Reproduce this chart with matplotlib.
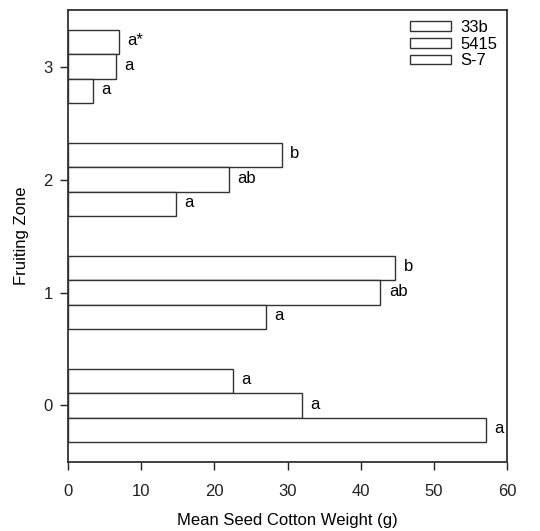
import numpy as np
import matplotlib
matplotlib.use("Agg")
import matplotlib.pyplot as plt

plt.rcParams['font.family'] = ['Liberation Sans', 'DejaVu Sans']

zones = [0, 1, 2, 3]
series = ["33b", "5415", "S-7"]
w_33b = [22.5, 44.7, 29.2, 7.0]
w_5415 = [32.0, 42.7, 22.0, 6.5]
w_s7 = [57.1, 27.1, 14.8, 3.4]
lab_33b = ["a", "b", "b", "a*"]
lab_5415 = ["a", "ab", "ab", "a"]
lab_s7 = ["a", "a", "a", "a"]

y = np.array(zones, dtype=float)
h = 0.215

fig, ax = plt.subplots(figsize=(5.4, 5.31), dpi=100)
fig.subplots_adjust(left=0.126, right=0.939, bottom=0.13, top=0.981)

edge = "#333333"
groups = [(w_33b, lab_33b, y + h), (w_5415, lab_5415, y), (w_s7, lab_s7, y - h)]
for (vals, labs, pos), name in zip(groups, series):
    ax.barh(pos, vals, height=h, color="white", edgecolor=edge, linewidth=1.0, label=name)
    for v, p, t in zip(vals, pos, labs):
        ax.annotate(t, (v, p), xytext=(6, 1), textcoords="offset points",
                    va="center", ha="left", fontsize=12)

ax.set_xlim(0, 60)
ax.set_ylim(-0.5, 3.5)
ax.set_xticks(range(0, 61, 10))
ax.set_yticks(zones)
ax.tick_params(direction="out", length=6, width=1, labelsize=12, colors="#222222")
ax.tick_params(axis="x", pad=10)
ax.tick_params(axis="y", pad=5)
for s in ax.spines.values():
    s.set_color("#333333")
    s.set_linewidth(1.3)

ax.set_xlabel("Mean Seed Cotton Weight (g)", fontsize=12, labelpad=10)
ax.set_ylabel("Fruiting Zone", fontsize=12, labelpad=10)

ax.legend(loc="upper right", frameon=False, fontsize=12, handlelength=2.45,
          handleheight=0.5, labelspacing=0.1, handletextpad=0.55,
          borderaxespad=0.2)

fig.savefig("out.png", dpi=100)
